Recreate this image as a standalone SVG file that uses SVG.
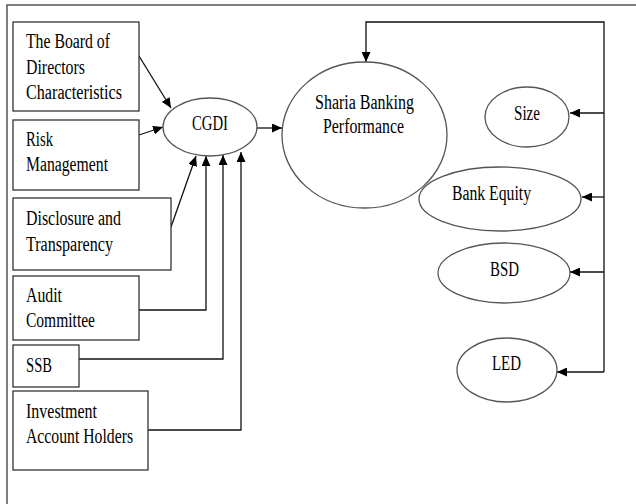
<svg xmlns="http://www.w3.org/2000/svg" width="636" height="504" viewBox="0 0 636 504">
<style>
.box{fill:#fff;stroke:#333;stroke-width:1.3}
.ell{fill:#fff;stroke:#555;stroke-width:1.3}
.t{font-family:"Liberation Serif","Times New Roman",serif;font-size:20px;fill:#000}
.con{fill:none;stroke:#111;stroke-width:1.3}
.frame{fill:none;stroke:#555;stroke-width:1.5}
</style>
<defs>
<marker id="ah" markerUnits="userSpaceOnUse" markerWidth="11" markerHeight="9" refX="10" refY="4.5" orient="auto">
<path d="M0,0 L10,4.5 L0,9 z" fill="#000"/>
</marker>
</defs>
<rect width="636" height="504" fill="#fff"/>
<path class="frame" d="M636,5 H7 V504"/>

<g id="connectors" class="con">
<line x1="139" y1="56" x2="171" y2="108" marker-end="url(#ah)"/>
<line x1="139" y1="135" x2="163" y2="127" marker-end="url(#ah)"/>
<line x1="171" y1="227" x2="196" y2="156" marker-end="url(#ah)"/>
<polyline points="139,310 206,310 206,156" marker-end="url(#ah)"/>
<polyline points="79,359 223,359 223,155" marker-end="url(#ah)"/>
<polyline points="148,430 241,430 241,152" marker-end="url(#ah)"/>
<line x1="257" y1="128" x2="282" y2="128" marker-end="url(#ah)"/>
<path d="M604,372 V22 H366 V62" marker-end="url(#ah)"/>
<line x1="604" y1="113" x2="570" y2="113" marker-end="url(#ah)"/>
<line x1="604" y1="197" x2="582" y2="197" marker-end="url(#ah)"/>
<line x1="604" y1="272" x2="570" y2="272" marker-end="url(#ah)"/>
<line x1="604" y1="372" x2="557" y2="372" marker-end="url(#ah)"/>
</g>

<g id="board">
<rect class="box" x="13" y="22" width="126" height="89"/>
<text class="t" x="26" y="48" textLength="84" lengthAdjust="spacingAndGlyphs">The Board of</text>
<text class="t" x="26" y="74" textLength="59" lengthAdjust="spacingAndGlyphs">Directors</text>
<text class="t" x="26" y="99" textLength="96" lengthAdjust="spacingAndGlyphs">Characteristics</text>
</g>
<g id="risk">
<rect class="box" x="13" y="120" width="126" height="70"/>
<text class="t" x="26" y="146" textLength="27" lengthAdjust="spacingAndGlyphs">Risk</text>
<text class="t" x="26" y="171" textLength="82" lengthAdjust="spacingAndGlyphs">Management</text>
</g>
<g id="disclosure">
<rect class="box" x="13" y="198" width="158" height="72"/>
<text class="t" x="26" y="225" textLength="95" lengthAdjust="spacingAndGlyphs">Disclosure and</text>
<text class="t" x="26" y="251" textLength="87" lengthAdjust="spacingAndGlyphs">Transparency</text>
</g>
<g id="audit">
<rect class="box" x="13" y="276" width="126" height="64"/>
<text class="t" x="26" y="302" textLength="36" lengthAdjust="spacingAndGlyphs">Audit</text>
<text class="t" x="26" y="327" textLength="69" lengthAdjust="spacingAndGlyphs">Committee</text>
</g>
<g id="ssb">
<rect class="box" x="13" y="345" width="66" height="42"/>
<text class="t" x="26" y="372" textLength="26" lengthAdjust="spacingAndGlyphs">SSB</text>
</g>
<g id="iah">
<rect class="box" x="13" y="391" width="135" height="79"/>
<text class="t" x="26" y="418" textLength="71" lengthAdjust="spacingAndGlyphs">Investment</text>
<text class="t" x="26" y="443" textLength="107" lengthAdjust="spacingAndGlyphs">Account Holders</text>
</g>

<g id="cgdi">
<ellipse class="ell" cx="210" cy="127" rx="47" ry="29"/>
<text class="t" x="192" y="130" textLength="36" lengthAdjust="spacingAndGlyphs">CGDI</text>
</g>
<g id="sbp">
<ellipse class="ell" cx="364.5" cy="135" rx="82.5" ry="73"/>
<text class="t" x="315" y="109" textLength="99" lengthAdjust="spacingAndGlyphs">Sharia Banking</text>
<text class="t" x="323" y="133" textLength="81" lengthAdjust="spacingAndGlyphs">Performance</text>
</g>
<g id="size">
<ellipse class="ell" cx="527" cy="117" rx="42" ry="30"/>
<text class="t" x="514" y="120" textLength="26" lengthAdjust="spacingAndGlyphs">Size</text>
</g>
<g id="equity">
<ellipse class="ell" cx="500" cy="199" rx="81" ry="32"/>
<text class="t" x="452" y="200" textLength="79" lengthAdjust="spacingAndGlyphs">Bank Equity</text>
</g>
<g id="bsd">
<ellipse class="ell" cx="504" cy="273" rx="66" ry="30"/>
<text class="t" x="490" y="276" textLength="29" lengthAdjust="spacingAndGlyphs">BSD</text>
</g>
<g id="led">
<ellipse class="ell" cx="507" cy="370" rx="50" ry="32"/>
<text class="t" x="492" y="370" textLength="29" lengthAdjust="spacingAndGlyphs">LED</text>
</g>
</svg>
